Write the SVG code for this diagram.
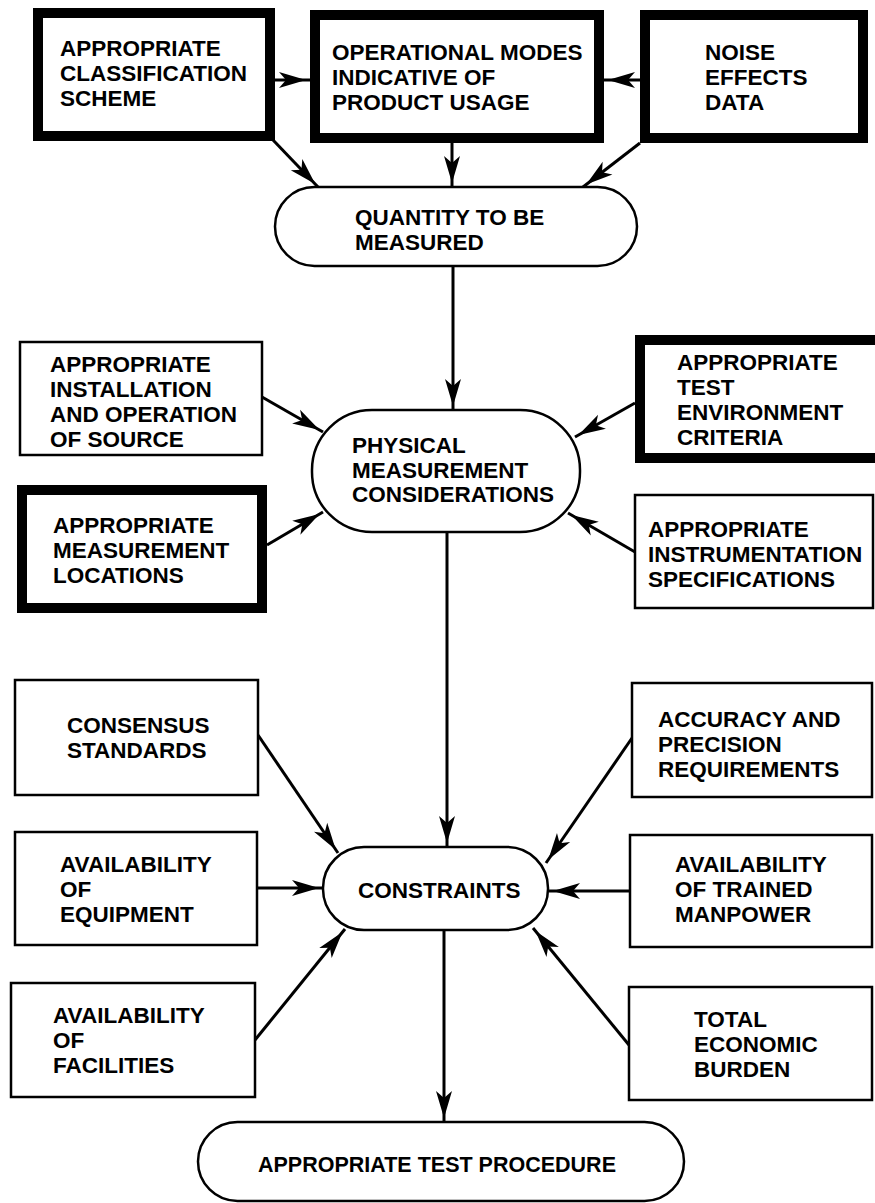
<svg xmlns="http://www.w3.org/2000/svg" width="875" height="1203" viewBox="0 0 875 1203">
<style>
text{font-family:"Liberation Sans",Arial,Helvetica,sans-serif;font-weight:bold;font-size:22.5px;fill:#000}
.thin{fill:#fff;stroke:#000;stroke-width:2.5}
.thick{fill:#fff;stroke:#000;stroke-width:10}
.oval{fill:#fff;stroke:#000;stroke-width:2.5}
.c line{stroke:#000;stroke-width:3;marker-end:url(#ah)}
</style>
<defs>
<marker id="ah" markerUnits="userSpaceOnUse" viewBox="-30 -10 32 20" markerWidth="32" markerHeight="20" refX="4" refY="0" orient="auto" overflow="visible">
<path d="M0,0 L-27,-8 L-20,0 L-27,8 Z" fill="#000"/>
</marker>
</defs>
<rect width="875" height="1203" fill="#fff"/>
<g id="connectors" class="c">
<line x1="275" y1="80" x2="310" y2="80"/>
<line x1="640" y1="80" x2="604" y2="80"/>
<line x1="273" y1="140" x2="318" y2="187"/>
<line x1="452" y1="143" x2="452" y2="187"/>
<line x1="640" y1="143" x2="583" y2="187"/>
<line x1="453" y1="266" x2="453" y2="410"/>
<line x1="262" y1="397" x2="323" y2="432"/>
<line x1="267" y1="545" x2="323" y2="512"/>
<line x1="635" y1="403" x2="575" y2="437"/>
<line x1="635" y1="552" x2="568" y2="513"/>
<line x1="447" y1="532" x2="447" y2="847"/>
<line x1="258" y1="735" x2="338" y2="853"/>
<line x1="257" y1="888" x2="323" y2="888"/>
<line x1="255" y1="1040" x2="345" y2="929"/>
<line x1="632" y1="738" x2="546" y2="863"/>
<line x1="630" y1="891" x2="549" y2="891"/>
<line x1="629" y1="1045" x2="533" y2="928"/>
<line x1="444" y1="930" x2="444" y2="1122"/>
</g>
<g id="n-classification"><rect class="thick" x="38" y="13" width="232" height="123"/>
<text x="60" y="56">APPROPRIATE</text><text x="60" y="81">CLASSIFICATION</text><text x="60" y="106">SCHEME</text></g>
<g id="n-modes"><rect class="thick" x="315" y="15" width="284" height="123"/>
<text x="332" y="60">OPERATIONAL MODES</text><text x="332" y="85">INDICATIVE OF</text><text x="332" y="110">PRODUCT USAGE</text></g>
<g id="n-noise"><rect class="thick" x="645" y="15" width="218" height="123"/>
<text x="705" y="60">NOISE</text><text x="705" y="85">EFFECTS</text><text x="705" y="110">DATA</text></g>
<g id="n-quantity"><rect class="oval" x="275" y="187" width="362" height="79" rx="39.5"/>
<text x="355" y="225">QUANTITY TO BE</text><text x="355" y="250">MEASURED</text></g>
<g id="n-installation"><rect class="thin" x="20" y="342" width="242" height="113"/>
<text x="50" y="372">APPROPRIATE</text><text x="50" y="397">INSTALLATION</text><text x="50" y="422">AND OPERATION</text><text x="50" y="447">OF SOURCE</text></g>
<g id="n-locations"><rect class="thick" x="22" y="490" width="240" height="118"/>
<text x="53" y="533">APPROPRIATE</text><text x="53" y="558">MEASUREMENT</text><text x="53" y="583">LOCATIONS</text></g>
<g id="n-environment"><rect class="thick" x="640" y="340" width="240" height="118"/>
<text x="677" y="370">APPROPRIATE</text><text x="677" y="395">TEST</text><text x="677" y="420">ENVIRONMENT</text><text x="677" y="445">CRITERIA</text></g>
<g id="n-instrumentation"><rect class="thin" x="635" y="495" width="238" height="113"/>
<text x="648" y="537">APPROPRIATE</text><text x="648" y="562">INSTRUMENTATION</text><text x="648" y="587">SPECIFICATIONS</text></g>
<g id="n-physical"><rect class="oval" x="312" y="410" width="268" height="122" rx="60"/>
<text x="352" y="453">PHYSICAL</text><text x="352" y="478">MEASUREMENT</text><text x="352" y="502">CONSIDERATIONS</text></g>
<g id="n-consensus"><rect class="thin" x="15" y="680" width="243" height="115"/>
<text x="67" y="733">CONSENSUS</text><text x="67" y="758">STANDARDS</text></g>
<g id="n-equipment"><rect class="thin" x="15" y="832" width="242" height="113"/>
<text x="60" y="872">AVAILABILITY</text><text x="60" y="897">OF</text><text x="60" y="922">EQUIPMENT</text></g>
<g id="n-facilities"><rect class="thin" x="11" y="983" width="244" height="114"/>
<text x="53" y="1023">AVAILABILITY</text><text x="53" y="1048">OF</text><text x="53" y="1073">FACILITIES</text></g>
<g id="n-accuracy"><rect class="thin" x="632" y="683" width="240" height="114"/>
<text x="658" y="727">ACCURACY AND</text><text x="658" y="752">PRECISION</text><text x="658" y="777">REQUIREMENTS</text></g>
<g id="n-manpower"><rect class="thin" x="630" y="835" width="242" height="112"/>
<text x="675" y="872">AVAILABILITY</text><text x="675" y="897">OF TRAINED</text><text x="675" y="922">MANPOWER</text></g>
<g id="n-burden"><rect class="thin" x="629" y="987" width="243" height="113"/>
<text x="694" y="1027">TOTAL</text><text x="694" y="1052">ECONOMIC</text><text x="694" y="1077">BURDEN</text></g>
<g id="n-constraints"><rect class="oval" x="323" y="847" width="225" height="83" rx="41"/>
<text x="358" y="898">CONSTRAINTS</text></g>
<g id="n-procedure"><rect class="oval" x="198" y="1122" width="486" height="79" rx="39.5"/>
<text x="258" y="1172" style="font-size:21.5px">APPROPRIATE TEST PROCEDURE</text></g>
</svg>
